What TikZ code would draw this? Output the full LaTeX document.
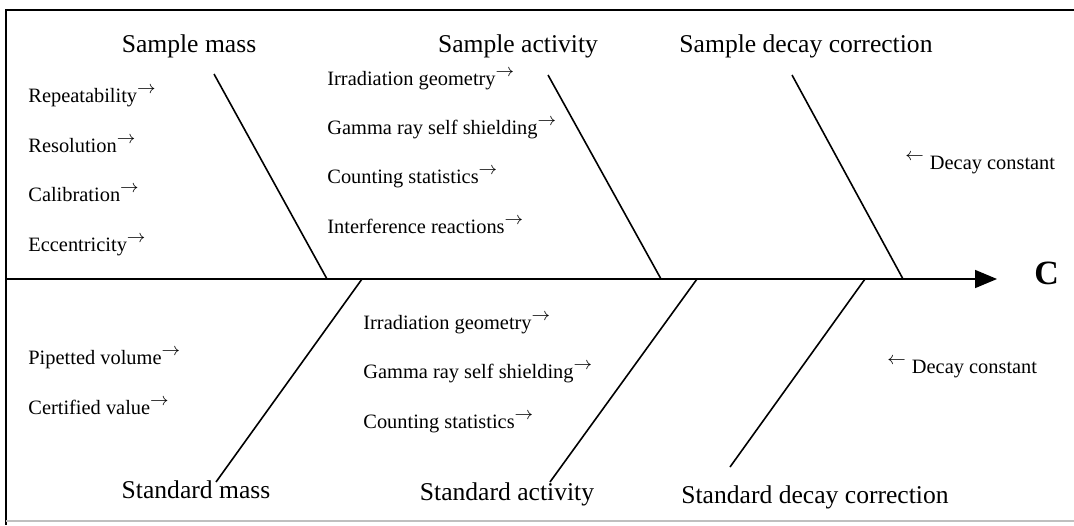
\documentclass[tikz,border=0pt]{standalone}
\usepackage{fontspec}
\setmainfont{Liberation Serif}
\usetikzlibrary{arrows.meta,positioning}
\newcommand{\jobbra}{\raisebox{0.42em}{\fontsize{9}{9}\selectfont$\rightarrow$}}
\newcommand{\balra}{\raisebox{0.42em}{\fontsize{9}{9}\selectfont$\leftarrow$}}
\tikzset{
  fej/.style={inner sep=0pt,anchor=base,font=\fontsize{12.8}{14}\selectfont},
  ok/.style={inner sep=0pt,anchor=base west,font=\fontsize{10.2}{12}\selectfont},
  ag/.style={line width=0.8pt},
  gerinc/.style={line width=0.8pt,-{Triangle[length=11pt,width=9pt]}},
  keret/.style={line width=0.7pt},
}

\begin{document}
\begin{tikzpicture}[x=0.5pt,y=-0.5pt]
  \useasboundingbox (0,0) rectangle (1074,525);
  % keret
  \coordinate (k1) at (1074,10); \coordinate (k2) at (6,10);
  \coordinate (k3) at (6,525); \coordinate (k4) at (1074,521);
  \draw[keret] (k1) -- (k2) -- (k3);
  \draw[keret,gray!50] (6,521) -- (k4);
  % gerinc
  \coordinate (bal) at (6,279);
  \coordinate (csucs) at (997,279);
  \node[inner sep=0pt,anchor=base west,font=\fontsize{17}{17}\selectfont\bfseries] (c) at (1034,284) {C};
  \draw[gerinc] (bal) -- (csucs);
  % fejek
  \node[fej] (sm) at (189,52) {Sample mass};
  \node[fej] (sa) at (518,52) {Sample activity};
  \node[fej] (sd) at (806,52) {Sample decay correction};
  \node[fej] (stm) at (196,498) {Standard mass};
  \node[fej] (sta) at (507,500) {Standard activity};
  \node[fej] (std) at (815,503) {Standard decay correction};
  % agak
  \coordinate (sm1) at (214,74);  \coordinate (sm2) at (327,279);
  \coordinate (sa1) at (548,75);  \coordinate (sa2) at (661,279);
  \coordinate (sd1) at (792,75);  \coordinate (sd2) at (903,279);
  \coordinate (stm1) at (362,279); \coordinate (stm2) at (216,482);
  \coordinate (sta1) at (697,279); \coordinate (sta2) at (550,482);
  \coordinate (std1) at (865,279); \coordinate (std2) at (730,467);
  \draw[ag] (sm1) -- (sm2); \draw[ag] (sa1) -- (sa2); \draw[ag] (sd1) -- (sd2);
  \draw[ag] (stm1) -- (stm2); \draw[ag] (sta1) -- (sta2); \draw[ag] (std1) -- (std2);
  % okok
  \foreach \t/\y [count=\i] in {Repeatability/102,Resolution/152,Calibration/201,Eccentricity/251,
      Pipetted volume/364,Certified value/414}
    \node[ok] (m\i) at (28,\y) {\t\jobbra};
  \foreach \t/\y [count=\i] in {Irradiation geometry/85,Gamma ray self shielding/134,
      Counting statistics/183,Interference reactions/233}
    \node[ok] (a\i) at (327,\y) {\t\jobbra};
  \foreach \t/\y [count=\i] in {Irradiation geometry/329,Gamma ray self shielding/378,
      Counting statistics/428}
    \node[ok] (b\i) at (363,\y) {\t\jobbra};
  \node[ok] (d1) at (905,169) {\balra\hspace{3pt}Decay constant};
  \node[ok] (d2) at (887,373) {\balra\hspace{3pt}Decay constant};
\end{tikzpicture}
\end{document}
